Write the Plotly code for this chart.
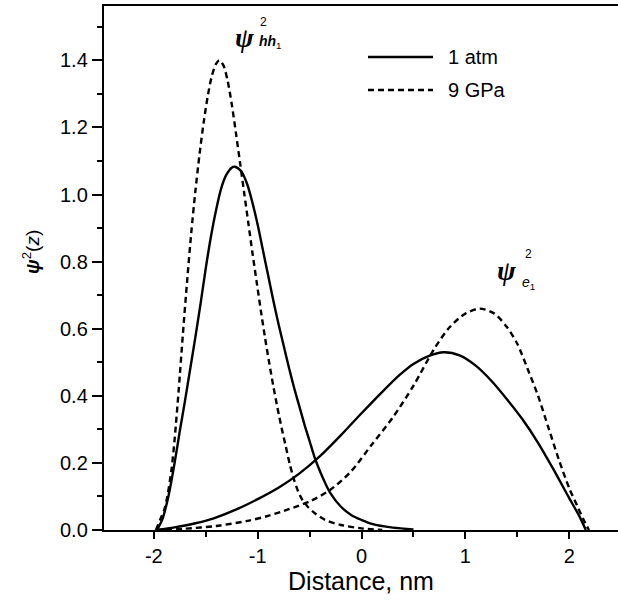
import plotly.graph_objects as go

# Squared envelope functions psi^2(z) across the well, at 1 atm and at 9 GPa
# heavy-hole ground state hh1, 1 atm
x_hh_1atm = [-1.97, -1.92, -1.86, -1.80, -1.75, -1.70, -1.65, -1.60, -1.55, -1.50,
             -1.45, -1.40, -1.35, -1.30, -1.25, -1.22, -1.16, -1.10, -1.05, -1.00,
             -0.95, -0.90, -0.85, -0.80, -0.75, -0.70, -0.65, -0.60, -0.55, -0.50,
             -0.45, -0.40, -0.35, -0.30, -0.20, -0.10, 0.0, 0.1, 0.3, 0.5]
y_hh_1atm = [0.0, 0.03, 0.10, 0.20, 0.295, 0.385, 0.48, 0.575, 0.675, 0.78,
             0.875, 0.955, 1.02, 1.06, 1.08, 1.083, 1.07, 1.03, 0.975, 0.91,
             0.835, 0.76, 0.685, 0.615, 0.55, 0.485, 0.425, 0.37, 0.315, 0.265,
             0.215, 0.175, 0.14, 0.11, 0.07, 0.045, 0.03, 0.018, 0.007, 0.002]

# heavy-hole ground state hh1, 9 GPa
x_hh_9gpa = [-1.98, -1.94, -1.90, -1.87, -1.83, -1.80, -1.76, -1.72, -1.68, -1.64,
             -1.60, -1.56, -1.52, -1.48, -1.44, -1.40, -1.37, -1.33, -1.29, -1.25,
             -1.21, -1.17, -1.13, -1.09, -1.05, -1.01, -0.97, -0.93, -0.89, -0.85,
             -0.81, -0.77, -0.73, -0.69, -0.65, -0.61, -0.57, -0.52, -0.45, -0.35,
             -0.20, 0.0, 0.2]
y_hh_9gpa = [0.0, 0.03, 0.06, 0.10, 0.18, 0.27, 0.42, 0.585, 0.74, 0.885,
             1.01, 1.12, 1.215, 1.295, 1.355, 1.39, 1.40, 1.385, 1.34, 1.27,
             1.185, 1.095, 1.005, 0.915, 0.825, 0.74, 0.655, 0.575, 0.50, 0.43,
             0.365, 0.305, 0.25, 0.195, 0.15, 0.115, 0.09, 0.07, 0.05, 0.03,
             0.015, 0.005, 0.0]

# first conduction-band state e1, 1 atm
x_e_1atm = [-1.97, -1.80, -1.60, -1.43, -1.20, -1.00, -0.80, -0.60, -0.40, -0.20,
            0.00, 0.20, 0.37, 0.50, 0.65, 0.79, 0.95, 1.10, 1.25, 1.40,
            1.55, 1.70, 1.85, 2.00, 2.10, 2.16]
y_e_1atm = [0.0, 0.008, 0.02, 0.034, 0.062, 0.092, 0.126, 0.168, 0.22, 0.282,
            0.348, 0.412, 0.463, 0.495, 0.519, 0.53, 0.52, 0.49, 0.445, 0.39,
            0.33, 0.26, 0.18, 0.095, 0.04, 0.0]

# first conduction-band state e1, 9 GPa
x_e_9gpa = [-1.98, -1.70, -1.40, -1.10, -0.90, -0.70, -0.50, -0.30, -0.10, 0.10,
            0.30, 0.50, 0.70, 0.85, 1.00, 1.14, 1.28, 1.40, 1.50, 1.60,
            1.70, 1.80, 1.90, 2.00, 2.08, 2.14, 2.19]
y_e_9gpa = [0.0, 0.004, 0.012, 0.027, 0.042, 0.062, 0.085, 0.12, 0.175, 0.255,
            0.335, 0.43, 0.54, 0.605, 0.645, 0.66, 0.645, 0.605, 0.555, 0.48,
            0.40, 0.305, 0.21, 0.125, 0.07, 0.03, 0.0]

legend_labels = ["1 atm", "9 GPa"]

x_tick_vals = [-2, -1, 0, 1, 2]
x_tick_text = ["-2", "-1", "0", "1", "2"]
y_tick_vals = [0.0, 0.2, 0.4, 0.6, 0.8, 1.0, 1.2, 1.4]

W, H = 618, 600
L, R, T, B = 104, 0, 6, 70
FONT = "Liberation Sans, Arial, Helvetica, sans-serif"
SERIF = "Liberation Serif, Times New Roman, serif"
INK = "#000000"
DASH = "6px,4px"


def px(xp):
    """Horizontal pixel position -> paper coordinate."""
    return (xp - L) / (W - L - R)


def py(yp):
    """Vertical pixel position -> paper coordinate."""
    return 1 - (yp - T) / (H - T - B)


fig = go.Figure()

solid = dict(color=INK, width=2.4, shape="spline", smoothing=0.8)
dashed = dict(color=INK, width=2.4, dash=DASH, shape="spline", smoothing=0.8)

fig.add_trace(go.Scatter(x=x_hh_1atm, y=y_hh_1atm, mode="lines", line=solid,
                         name=legend_labels[0], showlegend=False))
fig.add_trace(go.Scatter(x=x_e_1atm, y=y_e_1atm, mode="lines", line=solid,
                         name=legend_labels[0], showlegend=False))
fig.add_trace(go.Scatter(x=x_hh_9gpa, y=y_hh_9gpa, mode="lines", line=dashed,
                         name=legend_labels[1], showlegend=False))
fig.add_trace(go.Scatter(x=x_e_9gpa, y=y_e_9gpa, mode="lines", line=dashed,
                         name=legend_labels[1], showlegend=False))

# legend key drawn in the upper right of the plot area
fig.add_shape(type="line", xref="paper", yref="paper",
              x0=px(368), x1=px(433), y0=py(57), y1=py(57),
              line=dict(color=INK, width=2.4))
fig.add_shape(type="line", xref="paper", yref="paper",
              x0=px(368), x1=px(433), y0=py(90), y1=py(90),
              line=dict(color=INK, width=2.4, dash=DASH))

annotations = [
    dict(text=legend_labels[0], x=px(446), y=py(57), xanchor="left", yanchor="middle",
         font=dict(family=FONT, size=20, color=INK)),
    dict(text=legend_labels[1], x=px(446), y=py(90), xanchor="left", yanchor="middle",
         font=dict(family=FONT, size=20, color=INK)),
    # psi^2 label for hh1
    dict(text="<b><i>ψ</i></b>", x=px(244), y=py(37), xanchor="center", yanchor="middle",
         font=dict(family=SERIF, size=28, color=INK)),
    dict(text="2", x=px(263), y=py(22), xanchor="center", yanchor="middle",
         font=dict(family=FONT, size=12, color=INK)),
    dict(text="<b><i>hh</i></b><sub>1</sub>", x=px(257), y=py(42), xanchor="left",
         yanchor="middle", font=dict(family=FONT, size=14, color=INK)),
    # psi^2 label for e1
    dict(text="<b><i>ψ</i></b>", x=px(506), y=py(270), xanchor="center", yanchor="middle",
         font=dict(family=SERIF, size=28, color=INK)),
    dict(text="2", x=px(528), y=py(254), xanchor="center", yanchor="middle",
         font=dict(family=FONT, size=12, color=INK)),
    dict(text="<i>e</i><sub>1</sub>", x=px(520), y=py(283), xanchor="left",
         yanchor="middle", font=dict(family=FONT, size=14, color=INK)),
    # y-axis title
    dict(text="<b><i>ψ</i></b><sup>2</sup>(<i>z</i>)", x=px(31), y=py(252),
         xanchor="center", yanchor="middle", textangle=-90,
         font=dict(family=FONT, size=19, color=INK)),
]
for a in annotations:
    a.update(xref="paper", yref="paper", showarrow=False)

fig.update_layout(
    width=W, height=H,
    margin=dict(l=L, r=R, t=T, b=B, pad=0),
    paper_bgcolor="white", plot_bgcolor="white",
    font=dict(family=FONT, size=20, color=INK),
    annotations=annotations,
    showlegend=False,
)

fig.update_xaxes(
    range=[-2.48, 2.47], showgrid=False, zeroline=False,
    showline=True, linecolor=INK, linewidth=2.4, mirror=True,
    ticks="outside", ticklen=7, tickwidth=2, tickcolor=INK,
    tickvals=x_tick_vals, ticktext=x_tick_text,
    tickfont=dict(family=FONT, size=20, color=INK),
    minor=dict(ticks="outside", dtick=0.5, tick0=0, ticklen=5, tickwidth=2, tickcolor=INK),
    title=dict(text="Distance, nm", font=dict(family=FONT, size=25, color=INK), standoff=4),
)
fig.update_yaxes(
    range=[0, 1.562], showgrid=False, zeroline=False,
    showline=True, linecolor=INK, linewidth=2.4, mirror=False,
    ticks="outside", ticklen=10, tickwidth=2, tickcolor=INK,
    tickvals=y_tick_vals, tickformat=".1f",
    tickfont=dict(family=FONT, size=20, color=INK),
    minor=dict(ticks="outside", dtick=0.1, tick0=0, ticklen=5, tickwidth=2, tickcolor=INK),
)

fig.write_html("out.html")
